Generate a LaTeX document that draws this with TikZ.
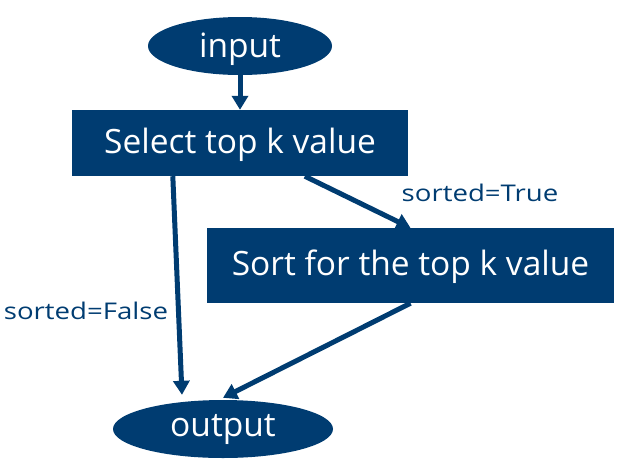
\documentclass[tikz,border=0pt]{standalone}
\usepackage{fontspec}
\setmainfont{Open Sans}
\newfontfamily\lblfont{Open Sans}[FakeStretch=1.2]
\usetikzlibrary{shapes.geometric,arrows.meta}
\definecolor{iblue}{HTML}{003C71}
\begin{document}
\begin{tikzpicture}[x=1pt,y=-1pt,
  term/.style={ellipse,fill=iblue,text=white,inner sep=0pt,text depth=0pt,font=\fontsize{33.5}{38}\selectfont},
  boxnode/.style={rectangle,fill=iblue,text=white,inner sep=0pt,text height=20pt,text depth=0pt,font=\fontsize{33.5}{38}\selectfont},
  lbl/.style={text=iblue,inner sep=0pt,font=\lblfont\fontsize{23}{27}\selectfont},
  arr/.style={draw=iblue,line width=5pt,-{Triangle[width=16pt,length=14pt]}}]
\useasboundingbox (0,0) rectangle (619,467);
\node[term,text height=22pt,minimum width=184pt,minimum height=58pt] (in) at (240,46) {input};
\node[boxnode,minimum width=336pt,minimum height=66pt] (sel) at (240,143) {Select top k value};
\node[boxnode,minimum width=407pt,minimum height=75pt] (sort) at (410.5,265.5) {Sort for the top k value};
\node[term,text height=15pt,minimum width=220pt,minimum height=58pt] (out) at (223,429) {output};
\node[lbl] (lt) at (480,193) {sorted=True};
\node[lbl] (lf) at (86,311) {sorted=False};
\draw[arr] (in.south) -- (sel.north);
\draw[arr] ([xshift=101pt]sel.south west) -- ([xshift=-41pt,yshift=5pt]out.north);
\draw[arr] ([xshift=233pt]sel.south west) -- (sort.north);
\draw[arr] (sort.south) -- ([yshift=2pt]out.north);
\end{tikzpicture}
\end{document}
